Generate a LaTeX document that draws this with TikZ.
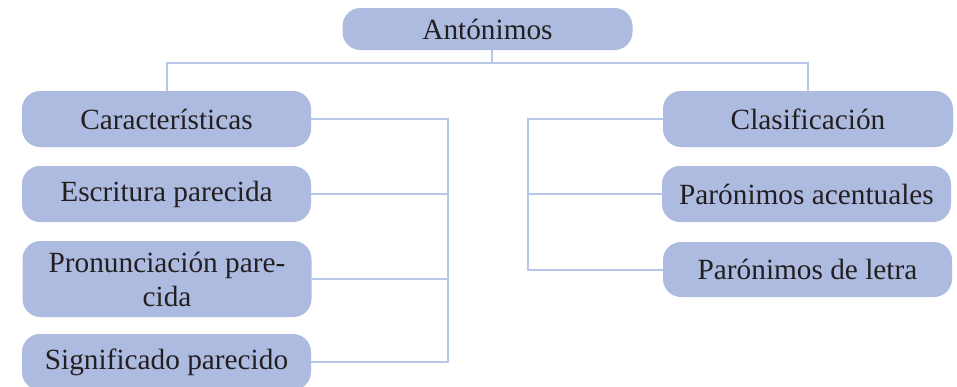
\documentclass[tikz,border=0pt]{standalone}
\usepackage{fontspec}
\setmainfont{Liberation Serif}
\definecolor{boxfill}{RGB}{174,187,224}
\definecolor{linecol}{RGB}{184,198,232}
\definecolor{txt}{RGB}{35,31,32}
\begin{document}
\begin{tikzpicture}[x=1pt,y=-1pt,
  box/.style={rectangle, rounded corners=18pt, fill=boxfill, draw=none,
    text=txt, font=\fontsize{29.3}{34}\selectfont, align=center,
    minimum width=289pt, minimum height=56pt, inner sep=0pt},
  conn/.style={draw=linecol, line width=2pt}]
\useasboundingbox (0,0) rectangle (957,386);
\node[box, minimum width=290pt, minimum height=42pt] (ant) at (487.5,29) {Antónimos};
\node[box] (car) at (166.5,119) {Características};
\node[box] (esc) at (166.5,194) {Escritura parecida};
\node[box, minimum height=76pt] (pro) at (167,279) {Pronunciación pare-\\cida};
\node[box] (sig) at (166.5,362) {Significado parecido};
\node[box, minimum width=290pt] (cla) at (808,119) {Clasificación};
\node[box] (pac) at (806.5,194) {Parónimos acentuales};
\node[box, minimum height=55pt] (pdl) at (807.5,269.5) {Parónimos de letra};
\coordinate (top) at (492,63);
\coordinate (lbx) at (448,0);
\coordinate (rbx) at (528,0);
\draw[conn] (ant.south -| top) -- (top);
\draw[conn] (car.north) |- (top) -| (cla.north);
\draw[conn] (car.east) -- (car.east -| lbx) -- (sig.east -| lbx) -- (sig.east);
\draw[conn] (esc.east) -- (esc.east -| lbx);
\draw[conn] (pro.east) -- (pro.east -| lbx);
\draw[conn] (cla.west) -- (cla.west -| rbx) -- (pdl.west -| rbx) -- (pdl.west);
\draw[conn] (pac.west) -- (pac.west -| rbx);
\end{tikzpicture}
\end{document}
